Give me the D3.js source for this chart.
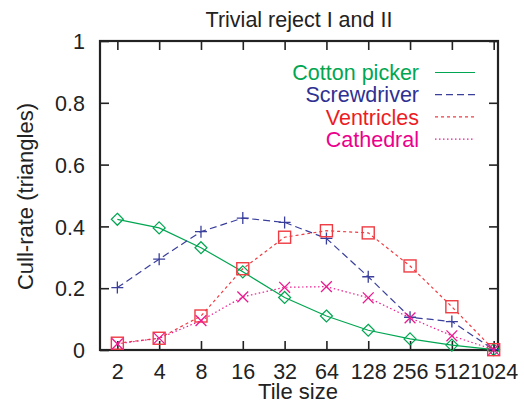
<!DOCTYPE html>
<html>
<head>
<meta charset="utf-8">
<script src="https://cdn.jsdelivr.net/npm/d3@7"></script>
<style>
  body { margin: 0; background: #fff; }
  text { font-family: "Liberation Sans", Arial, sans-serif; }
</style>
</head>
<body>
<div id="chart"></div>
<script>
// Tile sizes on the x axis (log 2 scale)
var tileSizes = [2, 4, 8, 16, 32, 64, 128, 256, 512, 1024];
var yTicks = [0, 0.2, 0.4, 0.6, 0.8, 1];

// Cull-rate per tile size
var cottonPicker = [0.423, 0.395, 0.331, 0.253, 0.170, 0.110, 0.064, 0.036, 0.016, 0.001];
var screwdriver  = [0.202, 0.294, 0.383, 0.427, 0.413, 0.361, 0.237, 0.106, 0.092, 0.001];
var ventricles   = [0.022, 0.038, 0.110, 0.263, 0.365, 0.386, 0.379, 0.272, 0.140, 0.001];
var cathedral    = [0.020, 0.038, 0.095, 0.172, 0.203, 0.205, 0.169, 0.104, 0.046, 0.001];

var seriesNames = ["Cotton picker", "Screwdriver", "Ventricles", "Cathedral"];

var W = 524, H = 403;
var margin = {left: 100, top: 41, right: 26, bottom: 53};
var pw = W - margin.left - margin.right, ph = H - margin.top - margin.bottom;

var svg = d3.select("#chart").append("svg").attr("width", W).attr("height", H);
var g = svg.append("g").attr("transform", "translate(" + margin.left + "," + margin.top + ")");

var x = d3.scaleLog().base(2).domain([1.5, 1100]).range([0, pw]);
var y = d3.scaleLinear().domain([0, 1]).range([ph, 0]);

// series styles
var series = [
    {name: seriesNames[0], values: cottonPicker, text: "#00a651", line: "#00a651", dash: null, marker: "diamond"},
    {name: seriesNames[1], values: screwdriver, text: "#2e3192", line: "#3a3f9c", dash: "7,4", marker: "plus"},
    {name: seriesNames[2], values: ventricles, text: "#ed1c24", line: "#ef3b42", dash: "3,3", marker: "square"},
    {name: seriesNames[3], values: cathedral, text: "#ec008c", line: "#ec1a8f", dash: "1.5,2.5", marker: "cross"}
];

// Axes with inward ticks
var tickLen = 9;
var axisBottom = d3.axisBottom(x).tickValues(tileSizes).tickFormat(d3.format("d")).tickSizeInner(-tickLen).tickSizeOuter(0);
var axisTop = d3.axisTop(x).tickValues(tileSizes).tickFormat("").tickSizeInner(-tickLen).tickSizeOuter(0);
var axisLeft = d3.axisLeft(y).tickValues(yTicks).tickFormat(function(d) { return d === 0 || d === 1 ? d : d3.format(".1f")(d); })
    .tickSizeInner(-tickLen).tickSizeOuter(0).tickPadding(15);
var axisRight = d3.axisRight(y).tickValues(yTicks).tickFormat("").tickSizeInner(-tickLen).tickSizeOuter(0);

var gx = g.append("g").attr("transform", "translate(0," + ph + ")").call(axisBottom);
g.append("g").call(axisTop);
var gy = g.append("g").call(axisLeft);
g.append("g").attr("transform", "translate(" + pw + ",0)").call(axisRight);

g.selectAll(".domain").remove();
g.selectAll(".tick line").attr("stroke", "#222").attr("stroke-width", 1.6);
g.selectAll(".tick text").attr("fill", "#222").style("font-size", "21.5px");
gx.selectAll(".tick text").attr("y", 28.5).attr("dy", 0);
gy.selectAll(".tick text").attr("dy", "0.36em");

// frame
g.append("rect").attr("width", pw).attr("height", ph)
    .attr("fill", "none").attr("stroke", "#222").attr("stroke-width", 2.2);

// lines
var line = d3.line().x(function(d, i) { return x(tileSizes[i]); }).y(function(d) { return y(d); });

series.forEach(function(s) {
    g.append("path").datum(s.values)
        .attr("fill", "none").attr("stroke", s.line).attr("stroke-width", 1.2)
        .attr("stroke-dasharray", s.dash)
        .attr("d", line);
});

// markers
function drawMarker(sel, type, color) {
    var r = 6;
    if (type === "diamond") {
        sel.append("path").attr("d", "M0," + (-r) + "L" + r + ",0L0," + r + "L" + (-r) + ",0Z")
            .attr("fill", "none").attr("stroke", color).attr("stroke-width", 1.2);
    } else if (type === "square") {
        sel.append("rect").attr("x", -r).attr("y", -r).attr("width", 2 * r).attr("height", 2 * r)
            .attr("fill", "none").attr("stroke", color).attr("stroke-width", 1.4);
    } else if (type === "plus") {
        sel.append("path").attr("d", "M" + (-r) + ",0H" + r + "M0," + (-r) + "V" + r)
            .attr("stroke", color).attr("stroke-width", 1.3);
    } else {
        var c = r * 0.9;
        sel.append("path").attr("d", "M" + (-c) + "," + (-c) + "L" + c + "," + c + "M" + (-c) + "," + c + "L" + c + "," + (-c))
            .attr("stroke", color).attr("stroke-width", 1.3);
    }
}

series.forEach(function(s) {
    s.values.forEach(function(v, i) {
        var m = g.append("g").attr("transform", "translate(" + x(tileSizes[i]) + "," + y(v) + ")");
        drawMarker(m, s.marker, s.line);
    });
});

// legend
var legend = g.append("g");
series.forEach(function(s, i) {
    var ly = 31.5 + i * 22.2;
    legend.append("text").attr("x", 319).attr("y", ly).attr("dy", "0.36em")
        .attr("text-anchor", "end").attr("fill", s.text).style("font-size", "21.5px").text(s.name);
    legend.append("line").attr("x1", 335).attr("x2", 375).attr("y1", ly).attr("y2", ly)
        .attr("stroke", s.line).attr("stroke-width", 1.2).attr("stroke-dasharray", s.dash);
});

// title and axis labels
svg.append("text").attr("x", margin.left + pw / 2).attr("y", 27).attr("text-anchor", "middle")
    .attr("fill", "#222").style("font-size", "21.5px").text("Trivial reject I and II");
svg.append("text").attr("x", margin.left + pw / 2 - 1).attr("y", 399).attr("text-anchor", "middle")
    .attr("fill", "#222").style("font-size", "22px").text("Tile size");
svg.append("text").attr("transform", "translate(33," + (margin.top + ph / 2 + 1) + ") rotate(-90)")
    .attr("text-anchor", "middle").attr("fill", "#222").style("font-size", "22px").text("Cull-rate (triangles)");
</script>
</body>
</html>
